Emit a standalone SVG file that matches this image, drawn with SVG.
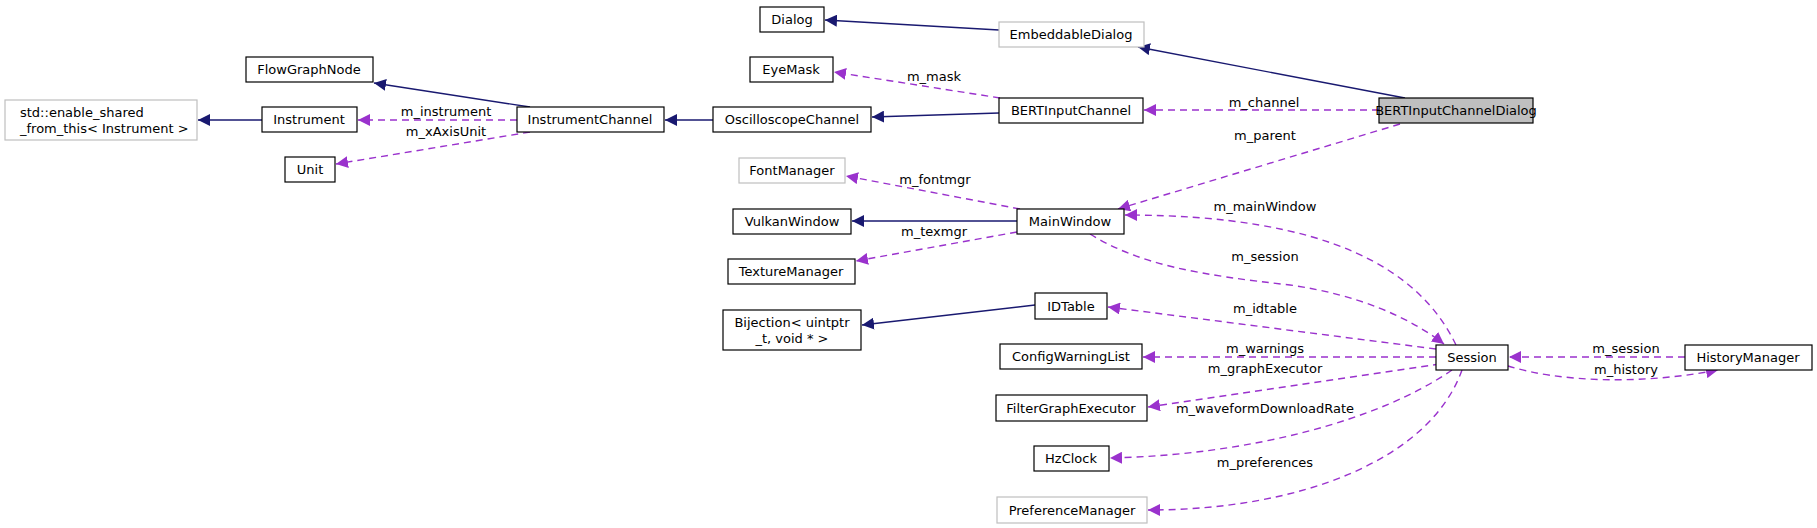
<svg xmlns="http://www.w3.org/2000/svg" width="1817" height="528" viewBox="0 0 1817 528">
<style>
text{font-family:"DejaVu Sans",sans-serif;font-size:13px;text-anchor:middle;fill:#000}
.n rect{fill:#fff;stroke:#000;stroke-width:1.2}
.n.g rect{stroke:#bfbfbf}
.n.f rect{fill:#bfbfbf}
.inh{fill:none;stroke:#191970;stroke-width:1.4;marker-end:url(#ab)}
.use{fill:none;stroke:#9a32cd;stroke-width:1.4;stroke-dasharray:7,5;marker-end:url(#ap)}
</style>
<defs>
<marker id="ab" viewBox="0 0 10 10" refX="10" refY="5" markerWidth="12" markerHeight="12" markerUnits="userSpaceOnUse" orient="auto"><path d="M0,0L10,5L0,10z" fill="#191970"/></marker>
<marker id="ap" viewBox="0 0 10 10" refX="10" refY="5" markerWidth="12" markerHeight="12" markerUnits="userSpaceOnUse" orient="auto"><path d="M0,0L10,5L0,10z" fill="#9a32cd"/></marker>
</defs>
<g id="edges">
<path class="inh" d="M530,107L374,83"/>
<path class="inh" d="M262,120L198,120"/>
<path class="inh" d="M713,120L665,120"/>
<path class="inh" d="M999,113L872,117"/>
<path class="inh" d="M1405,98L1138,47"/>
<path class="inh" d="M999,30L825,20"/>
<path class="inh" d="M1017,221L852,221"/>
<path class="inh" d="M1035,305L862,325"/>
<path class="use" d="M1000,98L834,72"/>
<path class="use" d="M1379,110L1144,110"/>
<path class="use" d="M1400,124L1118,209"/>
<path class="use" d="M517,120L358,120"/>
<path class="use" d="M530,132L336,164"/>
<path class="use" d="M1020,209L846,176"/>
<path class="use" d="M1017,232L856,261"/>
<path class="use" d="M1456,345C1420,270 1330,215 1125,215"/>
<path class="use" d="M1090,234C1140,265 1200,275 1290,285C1360,295 1410,318 1444,344"/>
<path class="use" d="M1436,349L1108,307"/>
<path class="use" d="M1436,357L1143,357"/>
<path class="use" d="M1440,364L1148,407"/>
<path class="use" d="M1452,370C1380,420 1250,455 1110,458"/>
<path class="use" d="M1462,370C1430,460 1300,510 1148,510"/>
<path class="use" d="M1685,357L1509,357"/>
<path class="use" d="M1508,366C1560,382 1640,385 1718,370"/>
</g>
<g id="labels">
<text x="934" y="81">m_mask</text>
<text x="1264" y="107">m_channel</text>
<text x="1265" y="140">m_parent</text>
<text x="446" y="116">m_instrument</text>
<text x="446" y="136">m_xAxisUnit</text>
<text x="935" y="184">m_fontmgr</text>
<text x="1265" y="211">m_mainWindow</text>
<text x="934" y="236">m_texmgr</text>
<text x="1265" y="261">m_session</text>
<text x="1265" y="313">m_idtable</text>
<text x="1265" y="353">m_warnings</text>
<text x="1265" y="373">m_graphExecutor</text>
<text x="1265" y="413">m_waveformDownloadRate</text>
<text x="1265" y="467">m_preferences</text>
<text x="1626" y="353">m_session</text>
<text x="1626" y="374">m_history</text>
</g>
<g id="Dialog" class="n"><rect x="760" y="7" width="64" height="25"/><text x="792" y="24">Dialog</text></g>
<g id="EmbeddableDialog" class="n g"><rect x="999" y="22" width="145" height="25"/><text x="1071" y="39">EmbeddableDialog</text></g>
<g id="EyeMask" class="n"><rect x="750" y="57" width="83" height="25"/><text x="791" y="74">EyeMask</text></g>
<g id="FlowGraphNode" class="n"><rect x="246" y="57" width="127" height="25"/><text x="309" y="74">FlowGraphNode</text></g>
<g id="enable_shared" class="n g"><rect x="5" y="100" width="192" height="40"/><text x="20" y="117" style="text-anchor:start">std::enable_shared</text><text x="20" y="133" style="text-anchor:start">_from_this&lt; Instrument &gt;</text></g>
<g id="Instrument" class="n"><rect x="262" y="107" width="95" height="25"/><text x="309" y="124">Instrument</text></g>
<g id="InstrumentChannel" class="n"><rect x="517" y="107" width="147" height="25"/><text x="590" y="124">InstrumentChannel</text></g>
<g id="Unit" class="n"><rect x="285" y="157" width="50" height="25"/><text x="310" y="174">Unit</text></g>
<g id="OscilloscopeChannel" class="n"><rect x="713" y="107" width="158" height="25"/><text x="792" y="124">OscilloscopeChannel</text></g>
<g id="BERTInputChannel" class="n"><rect x="999" y="98" width="144" height="25"/><text x="1071" y="115">BERTInputChannel</text></g>
<g id="BERTInputChannelDialog" class="n f"><rect x="1379" y="98" width="154" height="25"/><text x="1456" y="115">BERTInputChannelDialog</text></g>
<g id="FontManager" class="n g"><rect x="739" y="158" width="106" height="25"/><text x="792" y="175">FontManager</text></g>
<g id="VulkanWindow" class="n"><rect x="733" y="209" width="118" height="25"/><text x="792" y="226">VulkanWindow</text></g>
<g id="MainWindow" class="n"><rect x="1017" y="209" width="107" height="25"/><text x="1070" y="226">MainWindow</text></g>
<g id="TextureManager" class="n"><rect x="728" y="259" width="127" height="25"/><text x="791" y="276">TextureManager</text></g>
<g id="Bijection" class="n"><rect x="723" y="310" width="138" height="40"/><text x="792" y="327">Bijection&lt; uintptr</text><text x="792" y="343">_t, void * &gt;</text></g>
<g id="IDTable" class="n"><rect x="1035" y="293" width="72" height="26"/><text x="1071" y="311">IDTable</text></g>
<g id="ConfigWarningList" class="n"><rect x="1000" y="344" width="142" height="25"/><text x="1071" y="361">ConfigWarningList</text></g>
<g id="Session" class="n"><rect x="1436" y="345" width="72" height="25"/><text x="1472" y="362">Session</text></g>
<g id="HistoryManager" class="n"><rect x="1685" y="345" width="127" height="25"/><text x="1748" y="362">HistoryManager</text></g>
<g id="FilterGraphExecutor" class="n"><rect x="996" y="395" width="151" height="26"/><text x="1071" y="413">FilterGraphExecutor</text></g>
<g id="HzClock" class="n"><rect x="1034" y="446" width="75" height="25"/><text x="1071" y="463">HzClock</text></g>
<g id="PreferenceManager" class="n g"><rect x="997" y="497" width="150" height="26"/><text x="1072" y="515">PreferenceManager</text></g>
</svg>
